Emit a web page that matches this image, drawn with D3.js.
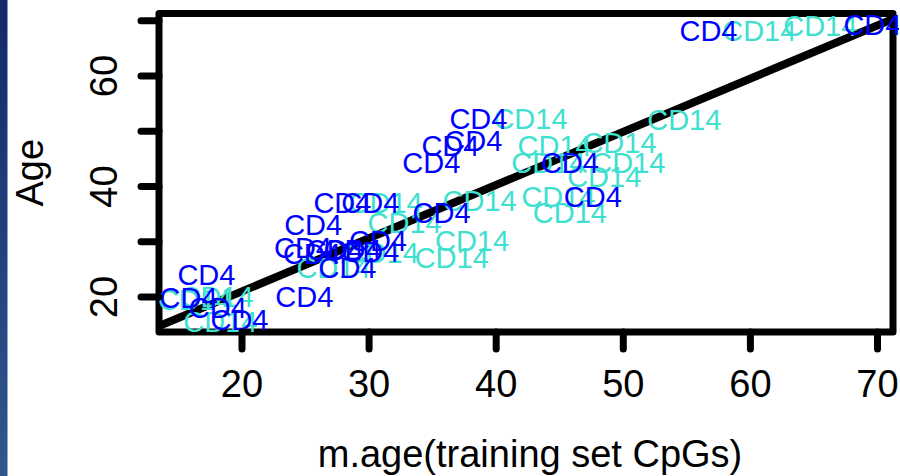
<!DOCTYPE html>
<html>
<head>
<meta charset="utf-8">
<script src="https://cdn.jsdelivr.net/npm/d3@7"></script>
<style>
  body { margin: 0; background: #fff; }
  svg { display: block; font-family: "Liberation Sans", Arial, sans-serif; }
</style>
</head>
<body>
<script>
// values
const xTicks = [20, 30, 40, 50, 60, 70];
const yTicks = [20, 30, 40, 50, 60, 70];
const yTickLabels = [20, 40, 60];

const cd14X = [60.7, 65.5, 42.7, 54.8, 44.6, 49.7, 44.1, 50.4, 48.5, 44.9, 45.8, 38.7, 32.8, 38.1, 36.5, 31.0, 31.3, 27.2, 18.0, 16.3, 18.3];
const cd14Y = [68.1, 69.0, 52.2, 52.0, 47.3, 47.9, 44.3, 44.3, 41.7, 38.1, 35.2, 37.4, 33.4, 30.1, 27.1, 28.0, 37.0, 25.2, 20.0, 19.5, 15.5];

const cd4X = [56.7, 69.6, 38.6, 38.2, 36.4, 34.9, 45.8, 47.6, 35.7, 27.9, 30.1, 25.6, 30.7, 24.8, 25.5, 27.3, 28.7, 30.1, 28.3, 17.2, 15.8, 18.1, 19.8, 24.9];
const cd4Y = [68.1, 69.2, 52.2, 48.2, 47.3, 44.3, 44.3, 38.1, 35.2, 37.0, 37.0, 33.0, 30.1, 28.9, 27.8, 28.5, 28.5, 28.1, 25.2, 24.0, 19.8, 18.0, 15.8, 20.0];

// fitted line: Age = a + b * m.age
const fitA = 1.76;
const fitB = 0.963;

const W = 900, H = 476;
const box = { left: 159, right: 893, top: 13.5, bottom: 332 };

const svg = d3.select("body").append("svg")
  .attr("width", W)
  .attr("height", H);

// slide background strip on the left
const grad = svg.append("defs").append("linearGradient")
  .attr("id", "strip").attr("x1", 0).attr("y1", 0).attr("x2", 0).attr("y2", 1);
grad.append("stop").attr("offset", "0%").attr("stop-color", "#12296a");
grad.append("stop").attr("offset", "100%").attr("stop-color", "#30588c");
svg.append("rect").attr("x", 0).attr("y", 0).attr("width", 7.5).attr("height", H)
  .attr("fill", "url(#strip)");

const x = d3.scaleLinear().domain([13.47, 71.22]).range([box.left, box.right]);
const y = d3.scaleLinear().domain([13.67, 71.31]).range([box.bottom, box.top]);

svg.append("clipPath").attr("id", "lineclip")
  .append("rect")
  .attr("x", box.left).attr("y", box.top)
  .attr("width", box.right - box.left).attr("height", box.bottom - box.top);
svg.append("clipPath").attr("id", "textclip")
  .append("rect")
  .attr("x", box.left).attr("y", box.top - 4)
  .attr("width", box.right - box.left + 6).attr("height", box.bottom - box.top + 4);

// regression line
const x0 = x.domain()[0], x1 = x.domain()[1];
svg.append("line")
  .attr("clip-path", "url(#lineclip)")
  .attr("x1", x(x0)).attr("y1", y(fitA + fitB * x0))
  .attr("x2", x(x1)).attr("y2", y(fitA + fitB * x1))
  .attr("stroke", "#000")
  .attr("stroke-width", 8);

// box
svg.append("rect")
  .attr("x", box.left).attr("y", box.top)
  .attr("width", box.right - box.left).attr("height", box.bottom - box.top)
  .attr("fill", "none")
  .attr("stroke", "#000")
  .attr("stroke-width", 7)
  .attr("stroke-linejoin", "round");

// labels
const labels = svg.append("g").attr("clip-path", "url(#textclip)");
function drawLabels(xs, ys, label, color) {
  labels.append("g").selectAll("text")
    .data(xs.map((v, i) => [v, ys[i]]))
    .enter()
    .append("text")
    .attr("x", d => x(d[0]))
    .attr("y", d => y(d[1]))
    .attr("dy", "0.35em")
    .attr("text-anchor", "middle")
    .attr("font-size", "29px")
    .attr("fill", color)
    .text(label);
}
drawLabels(cd14X, cd14Y, "CD14", "#40e0d0");
drawLabels(cd4X, cd4Y, "CD4", "#0000ff");

// x axis
const xAxis = svg.append("g");
xAxis.selectAll("line")
  .data(xTicks).enter().append("line")
  .attr("x1", d => x(d)).attr("x2", d => x(d))
  .attr("y1", box.bottom).attr("y2", box.bottom + 17)
  .attr("stroke", "#000").attr("stroke-width", 7).attr("stroke-linecap", "round");
xAxis.selectAll("text")
  .data(xTicks).enter().append("text")
  .attr("x", d => x(d)).attr("y", 397)
  .attr("text-anchor", "middle")
  .attr("font-size", "38px")
  .text(d => d);

// y axis
const yAxis = svg.append("g");
yAxis.selectAll("line")
  .data(yTicks).enter().append("line")
  .attr("x1", box.left).attr("x2", box.left - 18)
  .attr("y1", d => y(d)).attr("y2", d => y(d))
  .attr("stroke", "#000").attr("stroke-width", 7).attr("stroke-linecap", "round");
yAxis.selectAll("text")
  .data(yTickLabels).enter().append("text")
  .attr("transform", d => `translate(117,${y(d)}) rotate(-90)`)
  .attr("text-anchor", "middle")
  .attr("font-size", "38px")
  .text(d => d);

// axis titles
svg.append("text")
  .attr("x", (box.left + box.right) / 2 + 4).attr("y", 467)
  .attr("text-anchor", "middle")
  .attr("font-size", "38px")
  .text("m.age(training set CpGs)");

svg.append("text")
  .attr("transform", `translate(43,${(box.top + box.bottom) / 2}) rotate(-90)`)
  .attr("text-anchor", "middle")
  .attr("font-size", "38px")
  .text("Age");
</script>
</body>
</html>
